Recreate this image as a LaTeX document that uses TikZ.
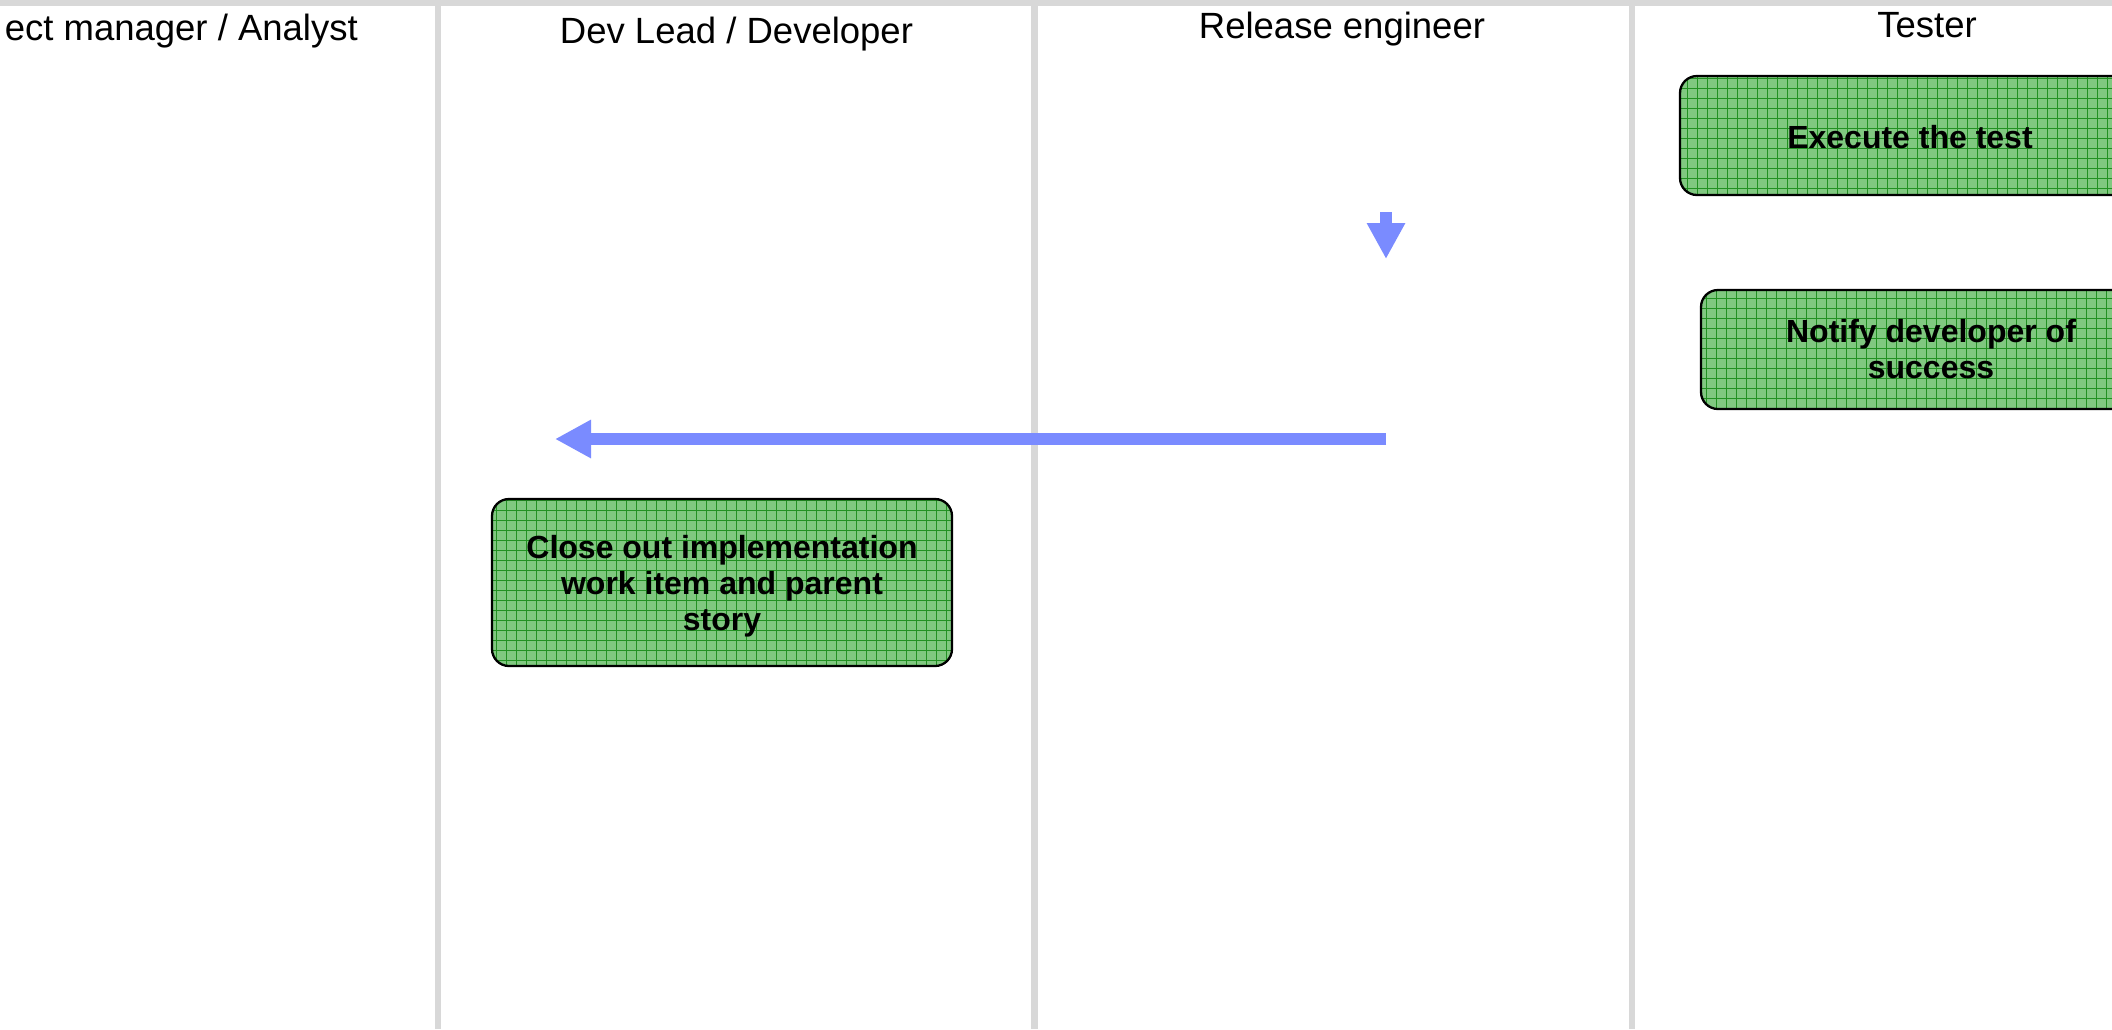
\documentclass[tikz,border=0pt]{standalone}
\usepackage{fontspec}
\setmainfont{Liberation Sans}
\usetikzlibrary{arrows.meta}
\definecolor{lanegray}{RGB}{216,216,216}
\definecolor{boxgreen}{RGB}{128,200,128}
\definecolor{gridgreen}{RGB}{34,145,34}
\definecolor{arrowblue}{RGB}{122,139,255}
\begin{document}
\begin{tikzpicture}[x=1pt,y=-1pt,
  lane/.style={draw=lanegray, line width=6.5pt},
  header/.style={inner sep=0pt, anchor=base, font=\fontsize{36.5}{40}\selectfont},
  task/.style={draw=black, line width=2.3pt, rounded corners=17pt, fill=boxgreen,
    inner sep=0pt, align=center, minimum width=460pt,
    font=\fontsize{32}{36}\selectfont\bfseries,
    path picture={\draw[gridgreen, line width=0.9pt]
      (path picture bounding box.south west) grid[step=10pt]
      (path picture bounding box.north east);}},
  flow/.style={arrowblue, line width=12pt, -{Triangle[length=36pt,width=36pt]}}
]
\useasboundingbox (0,0) rectangle (2112,1029);
\clip (0,0) rectangle (2112,1029);
\fill[white] (0,0) rectangle (2112,1029);
% lanes
\fill[lanegray] (0,0) rectangle (2112,6);
\draw[lane] (438,0) -- (438,1029);
\draw[lane] (1034.5,0) -- (1034.5,1029);
\draw[lane] (1632,0) -- (1632,1029);
% headers
\node[header, anchor=base east] (hpm) at (358,40) {ect manager / Analyst};
\node[header] (hdev) at (736.5,43) {Dev Lead / Developer};
\node[header] (hrel) at (1342,38) {Release engineer};
\node[header] (htest) at (1927,37) {Tester};
% tasks
\node[task, minimum height=119pt] (execute) at (1910,135.5) {\rule{0pt}{26pt}Execute the test};
\node[task, minimum height=119pt] (notify) at (1931,349.5) {Notify developer of\\success};
\node[task, minimum height=167pt] (closeout) at (722,582.5) {\rule{0pt}{31pt}Close out implementation\\work item and parent\\story};
% arrows
\coordinate (d1) at (1386,212);
\coordinate (d2) at (1386,259);
\coordinate (l1) at (1386,439);
\coordinate (l2) at (555,439);
\draw[flow] (d1) -- (d2);
\draw[flow] (l1) -- (l2);
\end{tikzpicture}
\end{document}
